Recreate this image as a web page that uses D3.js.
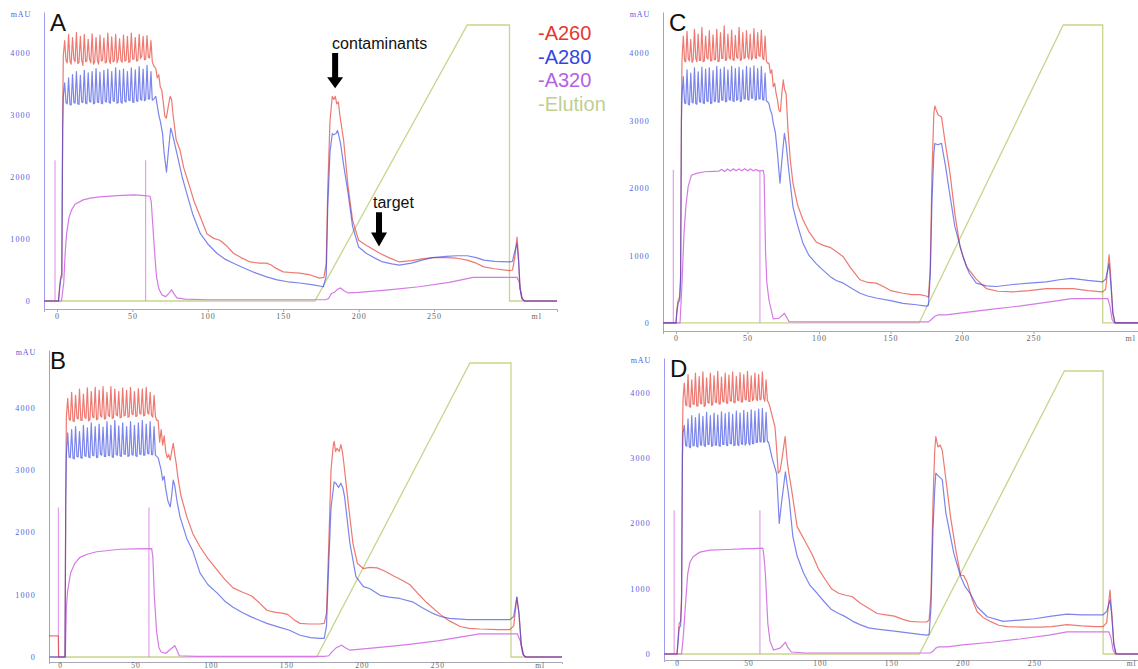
<!DOCTYPE html>
<html>
<head>
<meta charset="utf-8">
<script src="https://cdn.jsdelivr.net/npm/d3@7"></script>
<style>
  body { margin: 0; background: #fff; }
  svg { display: block; }
</style>
</head>
<body>
<svg id="chart" width="1138" height="669"></svg>
<script>
// ---- Shared settings -------------------------------------------------------
const seriesNames = ["-A260", "-A280", "-A320", "-Elution"];
const yTicks = [0, 1000, 2000, 3000, 4000];
const xTicks = [0, 50, 100, 150, 200, 250];
const xUnit = "ml";
const yUnit = "mAU";

// Retention volumes (ml) of the sample-loading pulses: base, peak, base for each pulse
const bandMl = [4.2,5.1,6.0, 6.8,7.7,8.6, 9.4,10.3,11.2, 12.0,12.9,13.8, 14.6,15.5,16.4,
  17.2,18.1,19.0, 19.8,20.7,21.6, 22.4,23.3,24.2, 25.0,25.9,26.8, 27.6,28.5,29.4,
  30.2,31.1,32.0, 32.8,33.7,34.6, 35.4,36.3,37.2, 38.0,38.9,39.8, 40.6,41.5,42.4,
  43.2,44.1,45.0, 45.8,46.7,47.6, 48.4,49.3,50.2, 51.0,51.9,52.8, 53.6,54.5,55.4,
  56.2,57.1,58.0, 58.8,59.7,60.6, 61.4,62.3,63.2, 64.0];

// ---- Run A -----------------------------------------------------------------
const a260BandA = [3950,4200,3880, 3840,4300,3870, 3820,4250,3900, 3860,4330,3830, 3850,4270,3880,
  3800,4300,3860, 3870,4220,3900, 3840,4310,3820, 3860,4250,3880, 3820,4290,3870, 3880,4240,3840,
  3850,4320,3890, 3830,4260,3860, 3870,4300,3840, 3900,4230,3880, 3850,4290,3870, 3880,4270,3850,
  3860,4320,3900, 3900,4250,3870, 3880,4300,3910, 3950,4270,3890, 3900,4280,3930, 3920,4200,3860, 3800];
const a280BandA = [3300,3520,3200, 3180,3600,3170, 3160,3650,3200, 3190,3700,3180, 3170,3640,3210,
  3200,3720,3190, 3180,3680,3220, 3210,3700,3180, 3190,3750,3210, 3200,3690,3190, 3180,3720,3220,
  3210,3740,3200, 3190,3700,3230, 3220,3760,3190, 3200,3720,3210, 3190,3740,3220, 3210,3700,3240,
  3230,3760,3210, 3200,3730,3230, 3220,3780,3250, 3240,3740,3230, 3250,3800,3260, 3260,3700,3240, 3250];
const a260A = [[-8.6,0],[1,0],[1.8,250],[2.5,400],[3.2,420],[3.8,3000],
  [65.5,3750],[66.5,3600],[67.5,3650],[68.5,3450],[69.5,3400],[70.5,3200],[71.5,2980],[72.5,2950],
  [73.5,3100],[75,3300],[76,3250],[77,3000],[79,2600],[81.6,2430],[84,2150],[88,1840],[91,1600],
  [95,1360],[99.5,1080],[104,1010],[108,980],[112,900],[117,770],[122,700],[128,630],[134,610],
  [139,610],[142,580],[145,530],[150,470],[155,460],[161,450],[168,420],[174,370],[177,380],
  [178.5,600],[179.5,1800],[181,2900],[182.5,3300],[183.5,3250],[184.5,3300],[185.5,3180],
  [186.6,3210],[187.5,3000],[190,2600],[193,1840],[196,1300],[200,980],[205,900],[214,770],
  [220,700],[227,630],[235,650],[242,680],[249,700],[258,700],[265,690],[272,660],[278,610],
  [283,550],[290,520],[300,490],[302,500],[303.5,700],[305,1030],[306,700],[307,200],[308.5,30],
  [310,0],[331.5,0]];
const a280A = [[-8.6,0],[1,0],[1.8,200],[2.5,350],[3.2,380],[3.8,2800],
  [65.5,3300],[66.5,3150],[67.5,3000],[68.5,2900],[70,2700],[71,2400],[72.6,2080],[73.8,2400],
  [75.4,2790],[76.5,2700],[79.5,2380],[83,2000],[86,1740],[90,1400],[95,1090],[100,920],[106,770],
  [111,680],[117,610],[125,520],[132,450],[139,390],[146,340],[153,310],[161,290],[170,260],
  [176.6,230],[178.5,400],[179.5,1500],[181,2400],[182.5,2700],[183.5,2680],[185,2700],[186,2750],
  [187,2650],[188,2540],[190,2200],[193,1740],[196,1200],[200,870],[205,770],[210,700],[216,630],
  [222,600],[227,580],[235,610],[242,660],[249,700],[258,720],[265,730],[272,730],[278,700],
  [283,660],[290,640],[300,630],[302,640],[303.5,800],[305,930],[306,650],[307,200],[308.5,30],
  [310,0],[331.5,0]];
const a320A = [[-8.6,0],[3,0],[4.5,300],[5.5,800],[6.4,1090],[8,1350],[9.7,1470],[12,1560],
  [17.4,1630],[22,1660],[28.5,1680],[40,1700],[51,1710],[58,1700],[61.7,1690],[62.5,1600],
  [63.9,1090],[65,700],[66,390],[67.5,200],[69.5,100],[72,70],[74,120],[76,180],[77.5,120],
  [79.5,50],[85,30],[100,20],[150,20],[178,20],[180,40],[182,120],[184,140],[186,190],[188,210],
  [190,170],[193,130],[200,140],[220,180],[240,230],[260,300],[276,380],[290,380],[305,380],
  [306.5,300],[308,50],[310,0],[331.5,0]];
const injectA = [-1.3, 58.8];
const injectTopA = 2270;
const elutionA = [[-8.6,0],[171,0],[272,100],[300,100],[300,0],[331.5,0]];

// ---- Run B -----------------------------------------------------------------
const a260BandB = [3850,4150,3820, 3800,4250,3790, 3780,4200,3840, 3820,4300,3800, 3800,4220,3850,
  3830,4320,3790, 3810,4260,3860, 3840,4330,3810, 3820,4280,3870, 3850,4340,3820, 3830,4250,3880,
  3860,4340,3830, 3840,4300,3890, 3870,4260,3840, 3850,4320,3870, 3880,4280,3850, 3860,4330,3900,
  3890,4260,3860, 3870,4310,3910, 3900,4300,3870, 3880,4330,3920, 3900,4250,3880, 3850,4200,3860, 3800];
const a280BandB = [3250,3600,3210, 3200,3650,3190, 3180,3700,3220, 3210,3620,3200, 3190,3720,3230,
  3220,3680,3210, 3200,3760,3240, 3230,3700,3200, 3210,3740,3250, 3240,3690,3220, 3220,3780,3240,
  3230,3720,3210, 3210,3800,3250, 3240,3710,3230, 3220,3760,3260, 3250,3700,3220, 3230,3780,3250,
  3240,3720,3230, 3220,3760,3260, 3250,3800,3240, 3240,3740,3270, 3260,3780,3250, 3250,3700,3240, 3220];
const a260B = [[-7.3,340],[-1.1,340],[-0.9,0],[3.3,0],[3.8,2600],
  [65,3800],[66,3450],[67,3650],[68,3400],[69,3550],[70,3300],[71,3200],[72,3250],[73,3160],
  [74,3300],[75,3430],[76,3250],[77,3100],[78,2900],[80,2600],[84,2250],[88,1980],[92.7,1770],
  [98,1580],[104,1400],[109,1250],[114.6,1110],[121,1040],[127,980],[132,870],[137,750],[142,720],
  [148,700],[151,680],[155,600],[159,540],[165,530],[172,530],[175,540],[176.5,700],[178,1800],
  [179.5,3000],[181,3400],[181.6,3460],[182.5,3300],[183.5,3350],[185,3300],[186,3410],[187,3300],
  [188,3110],[190.9,2470],[194,1830],[197,1500],[200.9,1420],[205,1440],[210,1430],[215,1380],
  [221,1300],[226,1240],[231.8,1160],[237,1020],[243,870],[252,680],[258,580],[265,490],[271,460],
  [278,450],[290,440],[298,440],[300.5,500],[302.6,960],[304,700],[305.5,200],[307,30],[308.5,0],
  [332.5,0]];
const a280B = [[-7.3,0],[3.3,0],[3.8,2500],
  [65,3200],[66,3100],[67,3000],[68,2840],[69,2900],[70,2700],[71.5,2500],[73,2410],[74,2600],
  [75,2840],[76,2750],[77.5,2500],[79.5,2250],[84,1900],[88,1700],[92.7,1350],[98,1160],[104,1030],
  [109,900],[114.6,800],[121,710],[127,640],[132,590],[137,540],[145,480],[152,430],[159,350],
  [166,310],[172,300],[175,300],[176.5,500],[178,1500],[179.5,2400],[181.6,2810],[183,2780],
  [184.5,2720],[186,2790],[187.5,2700],[188.5,2570],[192,1830],[196,1290],[201,1130],[205,1100],
  [212,990],[218,960],[225,940],[234,880],[240,790],[247,700],[252,650],[258,620],[270,600],
  [280,600],[298,600],[300.5,650],[302.6,960],[304,700],[305.5,200],[307,30],[308.5,0],[332.5,0]];
const a320B = [[-7.3,0],[3.5,0],[4.2,800],[5,1050],[7,1350],[9.7,1500],[13.2,1600],[18,1650],
  [24.3,1690],[32,1710],[39.7,1730],[50,1735],[60.7,1740],[61.5,1600],[62.5,960],[64,400],
  [65.5,150],[67,80],[70,60],[73,120],[76,180],[77.5,110],[79,20],[90,10],[150,10],[175,10],
  [178,20],[180,80],[183,150],[186.5,190],[189,150],[192,110],[210,150],[230,200],[250,260],
  [265,320],[278,370],[292,370],[303,370],[305,250],[306.5,50],[308,0],[332.5,0]];
const injectB = [-1.1, 58.9];
const injectTopB = 2400;
const elutionB = [[-7.3,0],[170,0],[271.5,100],[298.7,100],[298.7,0],[332.5,0]];

// ---- Run C -----------------------------------------------------------------
const a260BandC = [3900,4250,3880, 3870,4320,3910, 3880,4200,3860, 3900,4350,3920, 3870,4280,3890,
  3890,4380,3870, 3880,4250,3930, 3910,4330,3880, 3890,4270,3900, 3900,4350,3870, 3880,4300,3920,
  3920,4400,3890, 3900,4280,3930, 3910,4340,3900, 3890,4260,3940, 3920,4380,3890, 3900,4300,3920,
  3930,4330,3950, 3910,4280,3900, 3940,4360,3930, 3920,4300,3960, 3950,4340,3920, 3900,4250,3880, 3850];
const a280BandC = [3350,3650,3260, 3250,3750,3240, 3230,3700,3270, 3260,3780,3250, 3240,3720,3280,
  3270,3790,3260, 3250,3760,3290, 3280,3780,3250, 3260,3740,3280, 3290,3800,3270, 3270,3760,3300,
  3300,3790,3280, 3280,3750,3310, 3300,3800,3290, 3280,3770,3300, 3310,3790,3280, 3290,3750,3320,
  3320,3800,3310, 3300,3780,3330, 3330,3810,3300, 3310,3770,3320, 3320,3800,3310, 3300,3700,3290, 3280];
const a260C = [[-9.1,0],[0,0],[0.6,200],[1.5,340],[2.5,380],[3.2,700],[3.8,3200],
  [65,3850],[66,3700],[67,3750],[68,3500],[69,3550],[70,3400],[71,3300],[72,3150],[73,3130],
  [74,3400],[75,3600],[76,3450],[77,3400],[78.3,2860],[80,2400],[81.8,2070],[85,1750],[88.8,1530],
  [93,1350],[98,1200],[103,1150],[107.7,1120],[112,1060],[117,980],[122,820],[128.7,640],[134,600],
  [140,590],[145,540],[150,480],[158.8,440],[165,420],[170.6,420],[175,400],[176.5,380],[177.8,800],
  [179,2200],[180.3,3100],[181,3215],[182,3150],[183.4,3080],[185,3060],[185.7,3050],[188,2710],
  [191.6,2220],[195,1620],[198.6,1130],[203,840],[210,650],[217,510],[225,470],[235.8,460],
  [247,480],[259,510],[270,510],[277.7,510],[288,480],[298.4,460],[300.5,500],[302.9,1010],
  [304,700],[305.5,150],[307,0],[323.1,0]];
const a280C = [[-9.1,0],[0,0],[0.6,150],[1.5,300],[2.5,330],[3.2,600],[3.8,3000],
  [65,3250],[66,3150],[67,3100],[68,2960],[69.5,2820],[71,2500],[72.7,2070],[74,2400],[75.8,2810],
  [77,2650],[78.5,2330],[81.8,1720],[85,1450],[88.8,1180],[93,1000],[98,880],[103,780],[107.7,690],
  [112,630],[117,590],[123,510],[128.7,440],[134,400],[140,370],[150,330],[158.8,290],[168,270],
  [175,250],[176.5,260],[177.8,700],[179,1800],[180.3,2500],[181,2660],[183,2640],[185.7,2660],
  [187,2500],[188.5,2320],[191,1970],[195,1430],[200.7,980],[205,740],[210,590],[217,550],
  [224,540],[235.8,570],[247,590],[259,610],[268,640],[276.7,660],[288,630],[298.4,610],
  [300.5,650],[302.9,880],[304,600],[305.5,150],[307,0],[323.1,0]];
const a320C = [[-9.1,0],[2.8,0],[4,500],[5.6,1330],[7,1750],[8.5,2020],[10.8,2190],[15,2220],
  [20,2240],[26,2245],[30,2250],[32,2275],[34,2245],[36,2280],[38,2250],[40,2285],[42,2255],
  [44,2280],[46,2255],[48,2285],[50,2255],[52,2280],[54,2255],[56,2275],[58,2250],[60.9,2260],
  [61.6,2200],[62.6,1080],[63.5,600],[65,340],[68,60],[72,70],[75.8,140],[77.5,80],[79,20],
  [90,15],[150,15],[176.5,15],[178,40],[181,100],[183.4,120],[189,120],[200,150],[220,200],
  [240,250],[260,310],[276.7,360],[290,360],[302,360],[303.5,250],[305,50],[306.5,0],[323.1,0]];
const injectC = [-1.9, 58.7];
const injectTopC = 2270;
const elutionC = [[-9.1,0],[170,0],[270.8,100],[298.4,100],[298.4,0],[323.1,0]];

// ---- Run D -----------------------------------------------------------------
const a260BandD = [3900,4150,3820, 3800,4280,3790, 3780,4200,3830, 3820,4300,3800, 3800,4250,3840,
  3830,4320,3790, 3810,4230,3850, 3840,4300,3810, 3820,4260,3860, 3850,4330,3830, 3830,4240,3870,
  3860,4300,3840, 3840,4270,3880, 3870,4320,3850, 3850,4250,3890, 3880,4310,3860, 3860,4280,3900,
  3890,4330,3870, 3870,4260,3880, 3900,4300,3910, 3880,4280,3890, 3900,4320,3920, 3870,4200,3880, 3850];
const a280BandD = [3380,3500,3200, 3180,3600,3170, 3160,3650,3190, 3190,3620,3180, 3170,3680,3200,
  3200,3640,3190, 3180,3700,3210, 3210,3650,3180, 3190,3690,3200, 3200,3660,3190, 3180,3710,3210,
  3210,3680,3200, 3190,3700,3220, 3220,3670,3190, 3200,3720,3210, 3190,3690,3220, 3210,3730,3200,
  3230,3700,3230, 3200,3740,3220, 3220,3720,3240, 3240,3750,3250, 3250,3760,3240, 3260,3700,3250, 3250];
const a260D = [[-9.1,0],[0,0],[0.8,250],[1.5,470],[2.5,500],[3.2,900],[3.8,3300],
  [65,3780],[66.5,3650],[68.5,3480],[69.5,3200],[70.8,2770],[72,2800],[73.5,3000],[75.6,3330],
  [77,2970],[78,2800],[80.2,2510],[84,1950],[89,1750],[94.2,1540],[99,1300],[104,1130],[108,1000],
  [113,930],[118,900],[122.4,880],[128,780],[134,700],[140,620],[146,600],[152,580],[158,530],
  [163,500],[170,490],[174.6,490],[176.3,520],[177.6,900],[179,2300],[180.2,3100],[181,3330],
  [182.5,3170],[184,3200],[185.5,3120],[187.5,2770],[191.3,2100],[195,1590],[198.3,1210],
  [200.5,1200],[203,1090],[206.5,830],[209.8,650],[214,560],[219,500],[225,440],[230.8,420],
  [242,410],[254,410],[262,420],[272.7,450],[283,430],[293,420],[298,420],[300.5,480],[302.8,980],
  [304,650],[305.5,150],[307,0],[322.4,0]];
const a280D = [[-9.1,0],[0,0],[0.8,200],[1.5,400],[2.5,430],[3.2,800],[3.8,3000],
  [65,3150],[66.5,3000],[68.5,2850],[69.7,2760],[71.5,2000],[73,2300],[75.8,2790],[77,2600],
  [78.5,2360],[81,1800],[84,1500],[88.5,1240],[93,1050],[98,930],[103,800],[108,680],[113,620],
  [117,580],[123,500],[128,450],[134,400],[140,380],[152,350],[163,320],[170,300],[174.6,290],
  [176.3,300],[177.6,700],[179,1900],[180.2,2500],[181,2770],[183,2720],[185.5,2670],[188,2160],
  [193.6,1540],[198.3,1190],[201.5,1030],[205,930],[210,720],[217,570],[228,500],[240,520],
  [250,540],[262,580],[272.7,610],[283,600],[293,600],[298,600],[300.5,650],[302.8,830],
  [304,600],[305.5,150],[307,0],[322.4,0]];
const a320D = [[-9.1,0],[3.2,0],[4.5,300],[5.8,720],[7.5,1230],[9,1400],[11.3,1490],[16,1560],
  [23,1590],[35,1600],[46,1610],[53,1615],[60,1620],[60.8,1500],[61.8,1230],[63.5,470],[65,200],
  [67.5,60],[72,90],[75.8,180],[77.5,100],[80,30],[90,15],[150,15],[177,15],[179,40],[181,90],
  [183,110],[189,110],[200,140],[220,180],[240,230],[260,290],[272.7,340],[290,340],[302,340],
  [303.5,250],[305,60],[306.5,0],[322.4,0]];
const injectD = [-2, 58];
const injectTopD = 2200;
const elutionD = [[-9.1,0],[169.5,0],[270.9,100],[298,100],[298,0],[322.4,0]];

// Axis domains for each run
const xDomainA = [-8.6, 331.5], yDomainA = [-129, 4661];
const xDomainB = [-7.3, 332.5], yDomainB = [-80, 4928];
const xDomainC = [-9.1, 323.1], yDomainC = [-119, 4607];
const xDomainD = [-9.1, 322.4], yDomainD = [-92, 4533];

// Annotations on run A: [label, ml, arrow top mAU, arrow tip mAU]
const annotations = [["contaminants", 184.4, 4000, 3430], ["target", 213.5, 1430, 880]];

// ---- Layout ----------------------------------------------------------------
const colors = { a260: "#e4392e", a280: "#3040e0", a320: "#d67ae6", elution: "#c6d68c" };
const legendColors = ["#e4392e", "#3346e0", "#b561e3", "#bfcf90"];

const panels = [
  { id: "A", a260: a260A, b260: a260BandA, a280: a280A, b280: a280BandA, a320: a320A,
    inject: injectA, injectTop: injectTopA, elution: elutionA, xd: xDomainA, yd: yDomainA,
    box: { left: 44, right: 557, top: 12, bottom: 309 }, lower: false },
  { id: "B", a260: a260B, b260: a260BandB, a280: a280B, b280: a280BandB, a320: a320B,
    inject: injectB, injectTop: injectTopB, elution: elutionB, xd: xDomainB, yd: yDomainB,
    box: { left: 49, right: 562, top: 350, bottom: 662 }, lower: true },
  { id: "C", a260: a260C, b260: a260BandC, a280: a280C, b280: a280BandC, a320: a320C,
    inject: injectC, injectTop: injectTopC, elution: elutionC, xd: xDomainC, yd: yDomainC,
    box: { left: 663, right: 1138, top: 12, bottom: 331 }, lower: false },
  { id: "D", a260: a260D, b260: a260BandD, a280: a280D, b280: a280BandD, a320: a320D,
    inject: injectD, injectTop: injectTopD, elution: elutionD, xd: xDomainD, yd: yDomainD,
    box: { left: 664, right: 1138, top: 358, bottom: 660 }, lower: true }
];

const svg = d3.select("#chart");
const sans = "'Liberation Sans', Arial, Helvetica, sans-serif";
const serif = "'Liberation Serif', 'Times New Roman', serif";

// Merge the smooth trace with its loading-pulse band
function withBand(points, band) {
  return points.concat(band.map((v, i) => [bandMl[i], v])).sort((a, b) => a[0] - b[0]);
}

panels.forEach(p => {
  const b = p.box;
  const x = d3.scaleLinear().domain(p.xd).range([b.left, b.right]);
  const y = d3.scaleLinear().domain(p.yd).range([b.bottom, b.top]);
  const yEl = d3.scaleLinear().domain([0, 100]).range([y(0), b.top + 13]);
  const g = svg.append("g").attr("class", "panel-" + p.id);

  const line = d3.line().x(d => x(d[0])).y(d => y(d[1]));
  const elLine = d3.line().x(d => x(d[0])).y(d => yEl(d[1]));

  // axes (the lower runs sit against the page edge, so their labels are tucked up)
  const labelSize = p.lower ? 7.5 : 8;
  const xAxis = d3.axisBottom(x).tickValues(xTicks).tickSizeOuter(0)
    .tickSize(p.lower ? 2 : 3).tickPadding(p.lower ? 1 : 3)
    .tickFormat(d3.format("d"));
  const gx = g.append("g").attr("transform", `translate(0,${b.bottom})`).call(xAxis);
  gx.select(".domain").attr("stroke", "#a9a9b4");
  gx.selectAll(".tick line").attr("stroke", "#a9a9b4");
  gx.selectAll(".tick text").attr("font-family", serif).attr("font-size", labelSize)
    .attr("letter-spacing", 1).attr("fill", "#666").attr("dy", "0.45em");
  g.append("text").attr("x", x(318)).attr("y", b.bottom + (p.lower ? 6.4 : 10))
    .attr("font-family", serif).attr("font-size", labelSize).attr("letter-spacing", 1)
    .attr("fill", "#666").attr("text-anchor", "middle").text(xUnit);

  const yAxis = d3.axisLeft(y).tickValues(yTicks).tickSize(0).tickPadding(13)
    .tickFormat(d3.format("d"));
  const gy = g.append("g").attr("transform", `translate(${b.left},0)`).call(yAxis);
  gy.select(".domain").attr("stroke", "#9c9cf2");
  gy.selectAll(".tick text").attr("font-family", serif).attr("font-size", 8)
    .attr("letter-spacing", 1.2).attr("fill", "#4f5fe0");
  g.append("text").attr("x", b.left - 13).attr("y", b.top + 5)
    .attr("font-family", serif).attr("font-size", 8).attr("letter-spacing", 0.8)
    .attr("fill", "#4f5fe0").attr("text-anchor", "end").text(yUnit);

  // elution gradient
  g.append("path").datum(p.elution).attr("d", elLine)
    .attr("fill", "none").attr("stroke", colors.elution).attr("stroke-width", 1.3);

  // injection marks
  g.selectAll(".inject").data(p.inject).join("line")
    .attr("x1", d => x(d)).attr("x2", d => x(d))
    .attr("y1", y(0)).attr("y2", y(p.injectTop))
    .attr("stroke", colors.a320).attr("stroke-width", 1).attr("opacity", 0.85);

  // absorbance traces
  g.append("path").datum(p.a320).attr("d", line)
    .attr("fill", "none").attr("stroke", colors.a320).attr("stroke-width", 1.2);
  g.append("path").datum(withBand(p.a260, p.b260)).attr("d", line)
    .attr("fill", "none").attr("stroke", colors.a260).attr("stroke-width", 1.2)
    .attr("stroke-opacity", 0.68).attr("stroke-linejoin", "round");
  g.append("path").datum(withBand(p.a280, p.b280)).attr("d", line)
    .attr("fill", "none").attr("stroke", colors.a280).attr("stroke-width", 1.2)
    .attr("stroke-opacity", 0.64).attr("stroke-linejoin", "round");

  // panel letter
  g.append("text").attr("x", b.left + (p.id === "B" ? 1 : 6)).attr("y", b.top + 19)
    .attr("font-family", sans).attr("font-size", 24).attr("fill", "#111").text(p.id);

  if (p.id === "A") {
    // legend
    g.selectAll(".legend").data(seriesNames).join("text")
      .attr("x", 538).attr("y", (d, i) => 40 + i * 23.7)
      .attr("font-family", sans).attr("font-size", 20)
      .attr("fill", (d, i) => legendColors[i]).text(d => d);

    // arrows with labels
    annotations.forEach(([label, ml, top, tip], i) => {
      const cx = x(ml), y1 = y(top), y2 = y(tip);
      const head = i === 0 ? 11 : 14;
      g.append("path")
        .attr("d", `M${cx - 3},${y1} L${cx + 3},${y1} L${cx + 3},${y2 - head} L${cx + 8},${y2 - head}
                    L${cx},${y2} L${cx - 8},${y2 - head} L${cx - 3},${y2 - head} Z`)
        .attr("fill", "#000");
      g.append("text").attr("x", cx - (i === 0 ? 3 : 6)).attr("y", y1 - 4)
        .attr("font-family", sans).attr("font-size", 16).attr("fill", "#111").text(label);
    });
  }
});
</script>
</body>
</html>
